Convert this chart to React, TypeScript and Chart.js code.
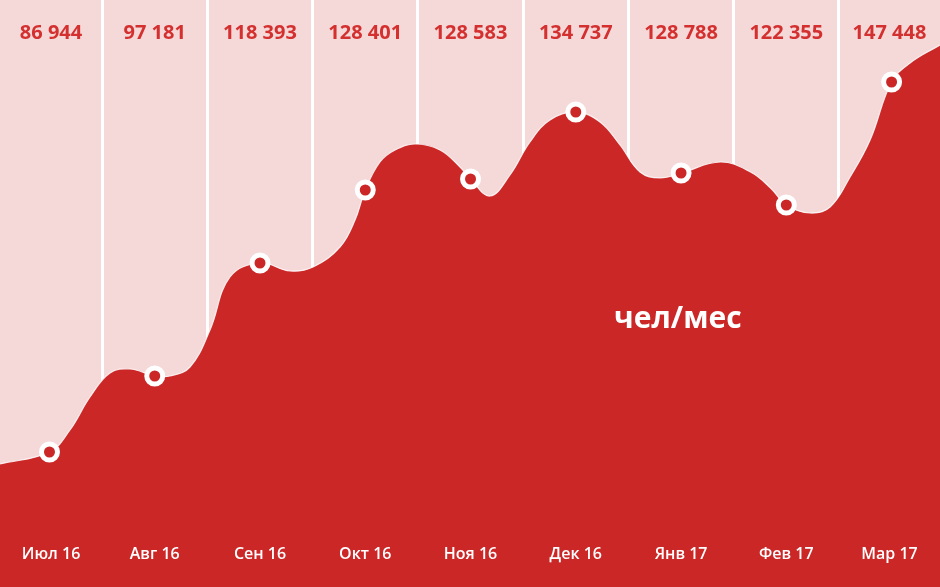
import { useEffect, useRef } from "react"
import { Chart, registerables, type ChartConfiguration, type Plugin } from "chart.js"

Chart.register(...registerables)

// months and monthly visitors (чел/мес)
const months = ["Июл 16", "Авг 16", "Сен 16", "Окт 16", "Ноя 16", "Дек 16", "Янв 17", "Фев 17", "Мар 17"]
const visitors = [86944, 97181, 118393, 128401, 128583, 134737, 128788, 122355, 147448]

// marker heights as drawn in the infographic (not proportional to the numbers)
const markerLevels = [135, 211, 324, 397, 408, 475, 414, 382, 505]

// extra nodes that shape the decorative wave between the markers
const shapeX = [
  -0.47, 0.195, 0.385, 0.575, 0.765, 1.145, 1.335, 1.525, 1.715, 2.285, 2.504, 2.76, 2.903,
  3.14, 3.283, 3.473, 3.71, 3.9, 4.185, 4.375, 4.565, 4.755, 5.23, 5.42, 5.61, 5.8, 6.375,
  6.66, 6.85, 7.225, 7.416, 7.606, 7.796, 8.176, 8.46,
]
const shapeLevels = [
  123, 157, 190, 214, 218, 211, 220, 257, 310, 316, 320, 340, 367,
  425, 437, 443, 437, 420, 391, 412, 445, 467, 465, 442, 415, 409, 425,
  415, 399, 374, 380, 410, 447, 524, 542,
]

// column separators
const boundaries = [0.5, 1.5, 2.5, 3.5, 4.5, 5.5, 6.5, 7.5]

const RED = "#cc2727"
const PINK = "#f5d8d8"

const fmt = (n: number) => String(n).replace(/\B(?=(\d{3})+(?!\d))/g, " ")

const labelsPlugin: Plugin<"line"> = {
  id: "labels",
  afterDraw(chart) {
    const { ctx, chartArea } = chart
    const x = chart.scales.x
    ctx.save()
    ctx.textAlign = "center"
    ctx.textBaseline = "middle"
    months.forEach((m, i) => {
      // centre of the column
      const left = i === 0 ? chartArea.left : x.getPixelForValue(boundaries[i - 1])
      const right = i === months.length - 1 ? chartArea.right : x.getPixelForValue(boundaries[i])
      const px = (left + right) / 2
      ctx.fillStyle = "#d3302f"
      ctx.font = "bold 20px 'Open Sans'"
      ctx.fillText(fmt(visitors[i]), px, chartArea.top + 33)
      ctx.fillStyle = "#ffffff"
      ctx.font = "600 16px 'Open Sans'"
      ctx.fillText(m, px, chartArea.bottom - 33)
    })
    ctx.fillStyle = "#ffffff"
    ctx.font = "bold 30px 'Open Sans'"
    ctx.fillText("чел/мес", x.getPixelForValue(5.97), chartArea.top + 319)
    ctx.restore()
  },
}

export default function App() {
  const chartRef = useRef<HTMLCanvasElement>(null)
  const chartInstance = useRef<Chart | null>(null)

  useEffect(() => {
    document.body.style.margin = "0"
    if (!chartRef.current) return
    const ctx = chartRef.current.getContext("2d")
    if (!ctx) return

    if (chartInstance.current) {
      chartInstance.current.destroy()
    }

    const markers = markerLevels.map((v, i) => ({ x: i, y: v }))
    const wave = [...markers, ...shapeX.map((x, i) => ({ x, y: shapeLevels[i] }))].sort((a, b) => a.x - b.x)

    const gridAxis = (color: string, z: number) => ({
      type: "linear" as const,
      axis: "x" as const,
      position: "bottom" as const,
      min: -0.47,
      max: 8.46,
      z,
      ticks: { display: false },
      border: { display: false },
      grid: { color, lineWidth: 3, drawTicks: false },
      afterBuildTicks: (axis: any) => {
        axis.ticks = boundaries.map((value) => ({ value }))
      },
    })

    const config: ChartConfiguration<"line"> = {
      type: "line",
      data: {
        datasets: [
          {
            label: "markers",
            data: markers,
            showLine: false,
            pointRadius: 8,
            pointBorderWidth: 5,
            pointBackgroundColor: RED,
            pointBorderColor: "#ffffff",
            order: 0,
          },
          {
            label: "wave",
            data: wave,
            fill: "start",
            backgroundColor: RED,
            borderColor: "rgba(255, 255, 255, 0.85)",
            borderWidth: 1.2,
            pointRadius: 0,
            tension: 0.4,
            order: 1,
          },
        ],
      },
      options: {
        animation: false,
        responsive: true,
        maintainAspectRatio: false,
        layout: { padding: 0, autoPadding: false },
        scales: {
          x: gridAxis("#ffffff", 0),
          x2: gridAxis("rgba(255, 255, 255, 0.06)", 1),
          y: { display: false, min: 0, max: 587 },
        } as any,
        plugins: {
          legend: { display: false },
          tooltip: { enabled: false },
        },
      },
      plugins: [labelsPlugin],
    }

    chartInstance.current = new Chart(ctx, config)

    return () => {
      if (chartInstance.current) {
        chartInstance.current.destroy()
        chartInstance.current = null
      }
    }
  }, [])

  return (
    <div style={{ position: "relative", width: 940, height: 587, background: PINK }}>
      <canvas ref={chartRef} />
    </div>
  )
}
